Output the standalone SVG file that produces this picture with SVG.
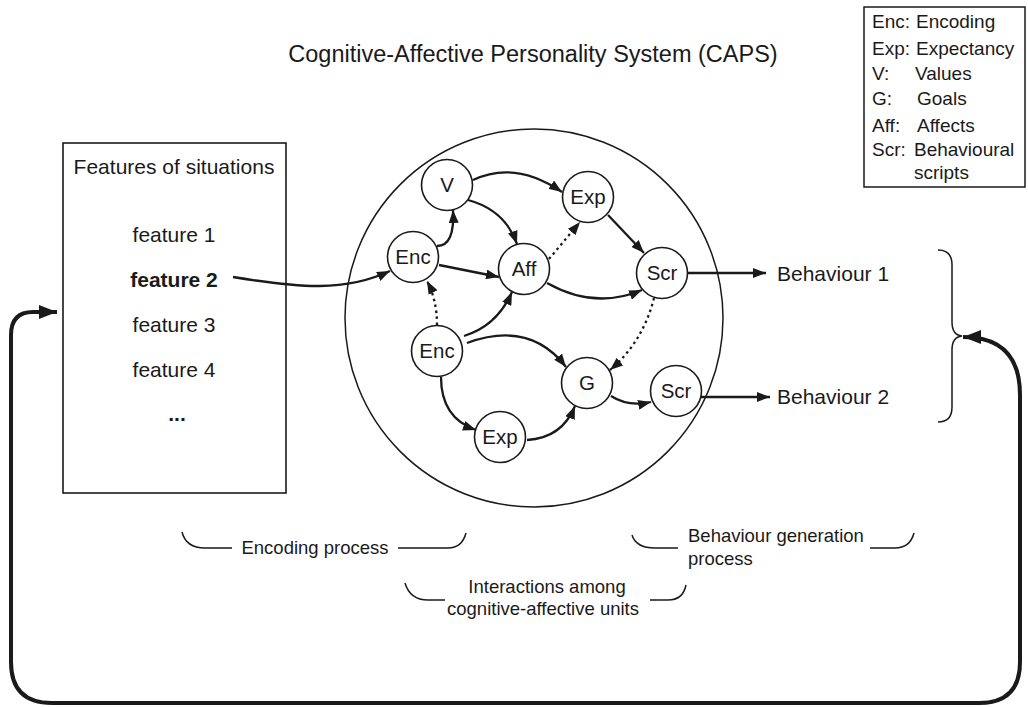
<svg xmlns="http://www.w3.org/2000/svg" width="1028" height="707" viewBox="0 0 1028 707">
<style>
text{font-family:"Liberation Sans",Arial,sans-serif;fill:#1a1a1a}
.node circle{fill:#fff;stroke:#1a1a1a;stroke-width:1.6}
.node text{font-size:20.5px;text-anchor:middle}
.edge{fill:none;stroke:#1a1a1a;stroke-width:2.3;marker-end:url(#ah)}
.dot{stroke-dasharray:2.5,3.5}
.thin{fill:none;stroke:#1a1a1a;stroke-width:1.5}
.feat{font-size:21px;text-anchor:middle}
.leg{font-size:19px}
.lab{font-size:18.5px}
</style>
<defs>
<marker id="ah" markerUnits="userSpaceOnUse" markerWidth="14" markerHeight="10" refX="13" refY="5" orient="auto">
<path d="M0,0 L13,5 L0,10 z" fill="#1a1a1a"/>
</marker>
<marker id="ahb" markerUnits="userSpaceOnUse" markerWidth="20" markerHeight="14" refX="18" refY="7" orient="auto-start-reverse">
<path d="M0,0 L18,7 L0,14 z" fill="#1a1a1a"/>
</marker>
</defs>

<text x="533" y="62" font-size="23.5" text-anchor="middle">Cognitive-Affective Personality System (CAPS)</text>

<g id="legend">
<rect x="864" y="7" width="161" height="180" fill="#fff" stroke="#1a1a1a" stroke-width="1.5"/>
<text class="leg" x="872" y="28">Enc:</text><text class="leg" x="916" y="28">Encoding</text>
<text class="leg" x="872" y="55">Exp:</text><text class="leg" x="916" y="55">Expectancy</text>
<text class="leg" x="872" y="80">V:</text><text class="leg" x="915" y="80">Values</text>
<text class="leg" x="872" y="105">G:</text><text class="leg" x="917" y="105">Goals</text>
<text class="leg" x="872" y="132">Aff:</text><text class="leg" x="917" y="132">Affects</text>
<text class="leg" x="872" y="156">Scr:</text><text class="leg" x="914" y="156">Behavioural</text>
<text class="leg" x="914" y="179">scripts</text>
</g>

<g id="features">
<rect x="63" y="143" width="223" height="350" fill="#fff" stroke="#1a1a1a" stroke-width="1.6"/>
<text class="feat" x="174" y="174">Features of situations</text>
<text class="feat" x="174" y="242">feature 1</text>
<text class="feat" x="174" y="287" font-weight="bold">feature 2</text>
<text class="feat" x="174" y="332">feature 3</text>
<text class="feat" x="174" y="377">feature 4</text>
<text class="feat" x="177" y="421" font-weight="bold">...</text>
</g>

<g id="caps-circle">
<circle cx="534" cy="318" r="189" fill="none" stroke="#1a1a1a" stroke-width="1.5"/>
</g>

<g id="connectors">
<path class="edge" d="M473,180 Q515,160 562,192"/>
<path class="edge" d="M468,200 Q505,210 517,244"/>
<path class="edge" d="M437,246 Q455,246 453,210"/>
<path class="edge" d="M439,265 L499,277"/>
<path class="edge dot" d="M549,259 L580,222"/>
<path class="edge" d="M608,215 L644,253"/>
<path class="edge" d="M547,283 Q595,310 642,290"/>
<path class="edge" d="M688,273 L766,273"/>
<path class="edge dot" d="M437,325 Q437,300 427,281"/>
<path class="edge" d="M464,336 Q497,326 512,292"/>
<path class="edge" d="M467,343 Q530,320 566,367"/>
<path class="edge dot" d="M654,298 Q643,342 610,370"/>
<path class="edge" d="M441,377 Q441,418 476,430"/>
<path class="edge" d="M527,440 Q562,438 575,406"/>
<path class="edge" d="M611,396 Q628,407 651,402"/>
<path class="edge" d="M701,397 L770,397"/>
<path class="edge" d="M233,277 C300,288 345,292 390,271"/>
<path d="M963,337 Q1020,337 1020,395 L1020,662 Q1020,703 979,703 L52,703 Q11,703 11,662 L11,335 Q11,312 33,312 L57,312" fill="none" stroke="#1a1a1a" stroke-width="4" marker-start="url(#ahb)" marker-end="url(#ahb)"/>
</g>

<g id="node-V" class="node"><circle cx="447" cy="185" r="25.5"/><text x="447" y="192">V</text></g>
<g id="node-Exp1" class="node"><circle cx="588" cy="197" r="25.5"/><text x="588" y="204">Exp</text></g>
<g id="node-Enc1" class="node"><circle cx="413" cy="257" r="25.5"/><text x="413" y="264">Enc</text></g>
<g id="node-Aff" class="node"><circle cx="524" cy="269" r="25.5"/><text x="524" y="276">Aff</text></g>
<g id="node-Scr1" class="node"><circle cx="662" cy="273" r="25.5"/><text x="662" y="280">Scr</text></g>
<g id="node-Enc2" class="node"><circle cx="437" cy="351" r="25.5"/><text x="437" y="358">Enc</text></g>
<g id="node-G" class="node"><circle cx="587" cy="383" r="25.5"/><text x="587" y="390">G</text></g>
<g id="node-Scr2" class="node"><circle cx="676" cy="391" r="25.5"/><text x="676" y="398">Scr</text></g>
<g id="node-Exp2" class="node"><circle cx="500" cy="437" r="25.5"/><text x="500" y="444">Exp</text></g>

<g id="behaviours">
<text x="777" y="281" font-size="21">Behaviour 1</text>
<text x="777" y="404" font-size="21">Behaviour 2</text>
<path class="thin" d="M938,250 Q952,250 952,265 L952,322 Q952,335 962,336 Q952,337 952,350 L952,407 Q952,422 938,422"/>
</g>

<g id="process-labels">
<path class="thin" d="M182,532 Q186,548 205,548 L232,548"/>
<text class="lab" x="315" y="554" text-anchor="middle">Encoding process</text>
<path class="thin" d="M398,548 L448,548 Q462,548 466,533"/>
<path class="thin" d="M632,535 Q636,548 655,548 L678,548"/>
<text class="lab" x="688" y="542">Behaviour generation</text>
<text class="lab" x="688" y="565">process</text>
<path class="thin" d="M870,548 L895,548 Q910,548 914,533"/>
<path class="thin" d="M405,583 Q410,600 428,600 L445,600"/>
<text class="lab" x="547" y="593" text-anchor="middle">Interactions among</text>
<text class="lab" x="543" y="615" text-anchor="middle">cognitive-affective units</text>
<path class="thin" d="M650,600 L668,600 Q683,600 686,585"/>
</g>
</svg>
